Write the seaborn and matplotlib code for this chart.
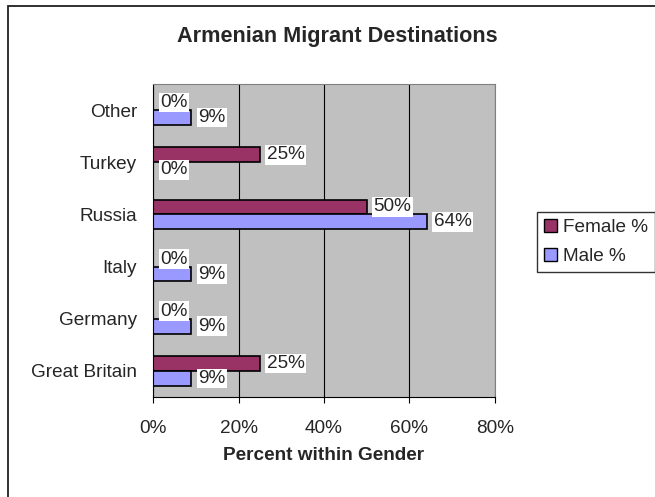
import numpy as np
import pandas as pd
import matplotlib
matplotlib.use("Agg")
import matplotlib.pyplot as plt
import seaborn as sns
from matplotlib.patches import Patch, Rectangle

# data
destinations = ["Other", "Turkey", "Russia", "Italy", "Germany", "Great Britain"]
female_pct = [0, 25, 50, 0, 0, 25]
male_pct = [9, 0, 64, 9, 9, 9]
series = ["Female %", "Male %"]
colors = ["#993366", "#9999FF"]

df = pd.DataFrame({
    "dest": destinations * 2,
    "pct": female_pct + male_pct,
    "series": [series[0]] * len(destinations) + [series[1]] * len(destinations),
})

sns.set_style("white")
plt.rcParams["font.family"] = ["Liberation Sans", "DejaVu Sans"]
fs = 13.7

fig = plt.figure(figsize=(6.55, 4.97), dpi=100)
# outer chart frame (only top/left edges fall inside the image)
fig.patches.append(Rectangle((8 / 655, -0.2), 1.5, 1.2 - 6 / 497, transform=fig.transFigure,
                             fill=False, edgecolor="#202020", linewidth=1.3))
ax = fig.add_axes([0.2336, 0.2012, 0.5221, 0.6298])

sns.barplot(data=df, y="dest", x="pct", hue="series", order=destinations,
            hue_order=series, palette=colors, orient="h", width=0.57,
            edgecolor="black", linewidth=1.2, saturation=1, legend=False, ax=ax)

ax.set_facecolor("#C0C0C0")
ax.set_xlim(0, 80)
ax.set_xticks([0, 20, 40, 60, 80])
ax.set_xticklabels([f"{v}%" for v in [0, 20, 40, 60, 80]], fontsize=fs)
ax.grid(axis="x", color="black", linewidth=0.8)
ax.set_axisbelow(True)
for s in ["top", "right"]:
    ax.spines[s].set_color("#808080")
for s in ["left", "bottom"]:
    ax.spines[s].set_color("black")

# category ticks sit on the boundaries
ax.tick_params(axis="y", which="major", length=0, labelsize=fs, pad=11.5)
ax.set_yticks(np.arange(-0.5, len(destinations), 1), minor=True)
ax.tick_params(axis="y", which="minor", length=4.5, direction="out", color="black")
ax.tick_params(axis="x", length=4.5, direction="out", color="black", bottom=True, pad=12)
ax.set_ylabel("")
ax.set_xlabel("Percent within Gender", fontsize=fs, fontweight="bold", labelpad=7)

# title is centred on the whole chart area, not the plot area
fig.text(337 / 655, 1 - 42 / 497, "Armenian Migrant Destinations", fontsize=15.6,
         fontweight="bold", ha="center", va="baseline")

for cont in ax.containers:
    ax.bar_label(cont, labels=[f"{v:.0f}%" for v in cont.datavalues], padding=5,
                 fontsize=fs, bbox=dict(facecolor="white", edgecolor="none", pad=1))

handles = [Patch(facecolor=c, edgecolor="black", label=l) for c, l in zip(colors, series)]
fig.legend(handles=handles, loc="center left", bbox_to_anchor=(537 / 655, 1 - 242 / 497),
           frameon=True, fancybox=False, edgecolor="black", fontsize=fs,
           handlelength=0.72, handleheight=0.72, handletextpad=0.3, borderpad=0.35,
           borderaxespad=0, labelspacing=0.6)

plt.savefig("out.png", dpi=100)
